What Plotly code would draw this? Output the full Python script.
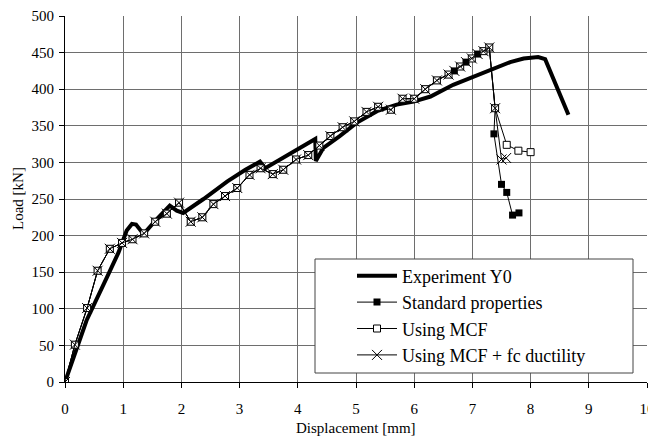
import plotly.graph_objects as go

# Experiment Y0 (thick line)
exp_x = [0.0, 0.37, 0.72, 0.92, 1.06, 1.15, 1.22, 1.35, 1.57, 1.80, 1.92, 2.03, 2.38, 2.79, 3.10,
         3.35, 3.44, 3.98, 4.30, 4.31, 4.44, 4.72, 5.01, 5.36, 5.70, 5.99, 6.28, 6.67, 7.25, 7.65,
         7.88, 8.13, 8.25, 8.39, 8.65]
exp_y = [0, 84, 143, 177, 207, 216, 215, 202, 222, 241, 234, 231, 250, 274, 290,
         301, 292, 317, 332, 302, 320, 336, 354, 370, 379, 383, 390, 406, 424, 437,
         442, 444, 441, 415, 365]

# Shared simulation path up to 6.59 mm
common_x = [0.0, 0.17, 0.38, 0.56, 0.77, 0.98, 1.16, 1.36, 1.55, 1.75, 1.96, 2.16, 2.36, 2.55,
            2.75, 2.96, 3.17, 3.36, 3.57, 3.75, 3.97, 4.18, 4.37, 4.56, 4.77, 4.97, 5.18, 5.38,
            5.60, 5.80, 6.00, 6.19, 6.39, 6.59]
common_y = [0, 51, 101, 152, 182, 190, 195, 203, 219, 230, 245, 219, 225, 243,
            254, 265, 283, 292, 284, 290, 304, 310, 323, 336, 348, 356, 369, 376,
            372, 387, 387, 400, 412, 420]

std_x = common_x + [6.69, 6.89, 7.09, 7.29, 7.39, 7.37, 7.50, 7.59, 7.69, 7.80]
std_y = common_y + [425, 437, 448, 457, 374, 339, 270, 259, 228, 231]

mcf_x = common_x + [6.79, 6.99, 7.19, 7.29, 7.39, 7.59, 7.79, 8.00]
mcf_y = common_y + [431, 442, 452, 457, 374, 324, 316, 314]

fc_x = common_x + [6.69, 6.79, 6.89, 6.99, 7.09, 7.19, 7.29, 7.39, 7.50, 7.58]
fc_y = common_y + [425, 431, 437, 442, 448, 452, 457, 374, 304, 306]

x_ticks = list(range(0, 11))
y_ticks = list(range(0, 501, 50))

FONT = "Liberation Serif"
OFF = 8  # page body margin
W, H = 656 - OFF, 443 - OFF
PX0, PX1, PY0, PY1 = 65, 647, 16, 382  # plot area in window pixels
L, R, T, B = PX0 - OFF, 656 - PX1, PY0 - OFF, 443 - PY1
PW, PH = PX1 - PX0, PY1 - PY0

fig = go.Figure()
fig.add_trace(go.Scatter(x=exp_x, y=exp_y, mode="lines", name="Experiment Y0",
                         line=dict(color="black", width=4)))
fig.add_trace(go.Scatter(x=std_x, y=std_y, mode="lines+markers", name="Standard properties",
                         line=dict(color="black", width=1),
                         marker=dict(symbol="square", size=7, color="black")))
fig.add_trace(go.Scatter(x=mcf_x, y=mcf_y, mode="lines+markers", name="Using MCF",
                         line=dict(color="black", width=1),
                         marker=dict(symbol="square", size=7, color="white",
                                     line=dict(color="black", width=1))))
fig.add_trace(go.Scatter(x=fc_x, y=fc_y, mode="lines+markers", name="Using MCF + fc ductility",
                         line=dict(color="black", width=1),
                         marker=dict(symbol="x-thin", size=10,
                                     line=dict(color="black", width=1))))

# legend box (white background with border)
fig.add_shape(type="rect", xref="paper", yref="paper",
              x0=(315 - PX0) / PW, x1=(633 - PX0) / PW,
              y0=(PY1 - 373) / PH, y1=(PY1 - 259) / PH,
              line=dict(color="#444", width=1), fillcolor="white", layer="above")

# axis titles
fig.add_annotation(text="Displacement [mm]", xref="paper", yref="paper",
                   x=0.5, y=(PY1 - 428) / PH, showarrow=False, xanchor="center", yanchor="middle",
                   font=dict(family=FONT, size=15, color="black"))
fig.add_annotation(text="Load [kN]", xref="paper", yref="paper", textangle=-90,
                   x=(18 - PX0) / PW, y=0.5, showarrow=False, xanchor="center", yanchor="middle",
                   font=dict(family=FONT, size=15, color="black"))

fig.update_layout(
    width=W, height=H,
    margin=dict(l=L, r=R, t=T, b=B),
    paper_bgcolor="white", plot_bgcolor="white",
    font=dict(family=FONT, size=15, color="black"),
    showlegend=True,
    legend=dict(x=(352 - PX0) / PW, y=(PY1 - 257.5) / PH, xanchor="left", yanchor="top",
                bgcolor="rgba(0,0,0,0)", borderwidth=0,
                font=dict(family=FONT, size=18, color="black"),
                itemwidth=40, tracegroupgap=0),
    xaxis=dict(range=[0, 10], tickvals=x_ticks, showgrid=True, gridcolor="#6e6e6e",
               gridwidth=1, zeroline=False, showline=True, linecolor="black", linewidth=1,
               ticks="outside", ticklen=5, tickcolor="black", automargin=False,
               ticklabeloverflow="allow",
               ticklabelstandoff=8, tickfont=dict(family=FONT, size=15, color="black")),
    yaxis=dict(range=[0, 500], tickvals=y_ticks, showgrid=True, gridcolor="#6e6e6e",
               gridwidth=1, zeroline=False, showline=True, linecolor="black", linewidth=1,
               ticks="outside", ticklen=5, tickcolor="black", ticklabelstandoff=2,
               ticklabeloverflow="allow",
               automargin=False, tickfont=dict(family=FONT, size=15, color="black")),
)

fig.write_html("out.html")
